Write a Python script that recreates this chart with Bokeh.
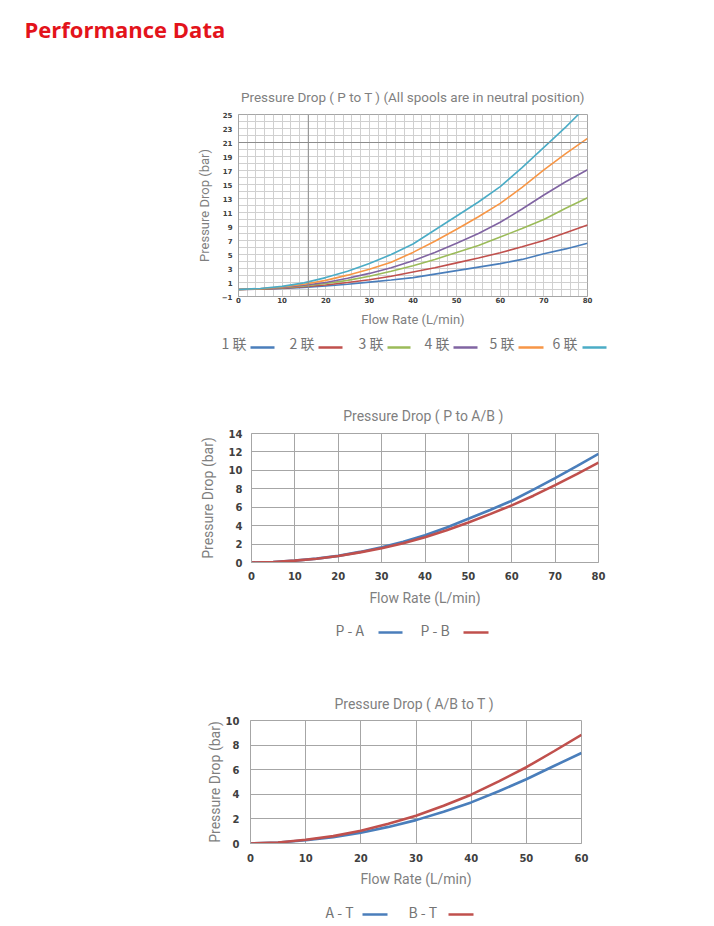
from bokeh.plotting import figure
from bokeh.models import Range1d, FixedTicker, Span
from bokeh.core.properties import value
from bokeh.embed import file_html
from bokeh.resources import INLINE

# ---------------- data ----------------
header_text = ["Performance Data"]

# Chart 1: Pressure drop P to T, 1..6 sections
flow_pt = [0, 5, 10, 15, 20, 25, 30, 35, 40, 45, 50, 55, 60, 65, 70, 75, 80]
pt_1 = [0, 0.05, 0.15, 0.3, 0.5, 0.75, 1.05, 1.35, 1.7, 2.2, 2.7, 3.2, 3.7, 4.3, 5.1, 5.8, 6.6]
pt_2 = [0, 0.06, 0.2, 0.4, 0.65, 1.0, 1.4, 1.9, 2.5, 3.1, 3.8, 4.5, 5.25, 6.1, 7.0, 8.1, 9.2]
pt_3 = [0, 0.08, 0.25, 0.5, 0.85, 1.3, 1.9, 2.6, 3.4, 4.3, 5.3, 6.3, 7.5, 8.7, 10.0, 11.6, 13.1]
pt_4 = [0, 0.1, 0.3, 0.6, 1.0, 1.6, 2.3, 3.1, 4.1, 5.3, 6.6, 8.0, 9.6, 11.5, 13.5, 15.4, 17.1]
pt_5 = [0, 0.1, 0.35, 0.75, 1.3, 2.05, 2.9, 3.9, 5.3, 6.9, 8.6, 10.4, 12.3, 14.6, 17.1, 19.4, 21.6]
pt_6 = [0, 0.15, 0.45, 0.95, 1.7, 2.6, 3.7, 5.0, 6.5, 8.5, 10.5, 12.5, 14.7, 17.4, 20.3, 23.2, 26.3]
pt_series = [pt_1, pt_2, pt_3, pt_4, pt_5, pt_6]
pt_names = ["1 联", "2 联", "3 联", "4 联", "5 联", "6 联"]
pt_colors = ["#4a7ebb", "#c0504d", "#9bbb59", "#8064a2", "#f79646", "#4bacc6"]
pt_xticks = [0, 10, 20, 30, 40, 50, 60, 70, 80]
pt_yticks = [-1, 1, 3, 5, 7, 9, 11, 13, 15, 17, 19, 21, 23, 25]

# Chart 2: P to A/B
flow_pab = [0, 5, 10, 15, 20, 25, 30, 35, 40, 45, 50, 55, 60, 65, 70, 75, 80]
p_a = [0, 0.05, 0.2, 0.42, 0.72, 1.15, 1.65, 2.25, 2.95, 3.8, 4.75, 5.7, 6.7, 7.9, 9.15, 10.45, 11.8]
p_b = [0, 0.05, 0.2, 0.4, 0.7, 1.1, 1.55, 2.1, 2.75, 3.5, 4.35, 5.25, 6.2, 7.25, 8.4, 9.6, 10.85]
pab_names = ["P - A", "P - B"]
pab_xticks = [0, 10, 20, 30, 40, 50, 60, 70, 80]
pab_yticks = [0, 2, 4, 6, 8, 10, 12, 14]

# Chart 3: A/B to T
flow_abt = [0, 5, 10, 15, 20, 25, 30, 35, 40, 45, 50, 55, 60]
a_t = [0, 0.08, 0.27, 0.52, 0.88, 1.35, 1.9, 2.58, 3.34, 4.25, 5.22, 6.3, 7.36]
b_t = [0, 0.08, 0.3, 0.6, 1.03, 1.6, 2.25, 3.07, 3.97, 5.05, 6.2, 7.5, 8.83]
abt_names = ["A - T", "B - T"]
abt_xticks = [0, 10, 20, 30, 40, 50, 60]
abt_yticks = [0, 2, 4, 6, 8, 10]

BLUE = "#4a7ebb"
RED = "#c0504d"
GRAY_TXT = "#7f7f7f"
TITLE_FONT = "Roboto"
TICK_FONT = "DejaVu Sans"


def style_common(p, title_size, label_size):
    p.title.align = "center"
    p.title.text_font = TITLE_FONT
    p.title.text_font_style = "normal"
    p.title.text_color = GRAY_TXT
    p.title.text_font_size = title_size
    p.outline_line_color = "#a6a6a6"
    p.background_fill_color = "white"
    p.border_fill_color = "white"
    for ax in (p.xaxis[0], p.yaxis[0]):
        ax.axis_label_text_font = TITLE_FONT
        ax.axis_label_text_font_style = "normal"
        ax.axis_label_text_color = GRAY_TXT
        ax.axis_label_text_font_size = label_size
        ax.major_tick_line_color = None
        ax.minor_tick_line_color = None
        ax.axis_line_color = "#a6a6a6"
        ax.major_label_text_font = TICK_FONT
        ax.major_label_text_font_style = "bold"
        ax.major_label_text_color = "#404040"


def blank_fig(height, top):
    bp = figure(width=698, height=height, x_range=Range1d(0, 698), y_range=Range1d(top + height, top),
                x_axis_type=None, y_axis_type=None, output_backend="svg", toolbar_location=None,
                min_border=0, outline_line_color=None)
    bp.grid.visible = False
    return bp


# ---------------- header ----------------
h0 = blank_fig(50, 0)
h0.text(x=[24], y=[28], text=header_text, text_font=value("Open Sans"), text_font_style="bold",
        text_font_size="22px", text_color="#e3131b", text_baseline="middle", text_align="left")

# ---------------- chart 1 ----------------
p1 = figure(width=698, height=282, x_range=Range1d(0, 80), y_range=Range1d(-1, 25),
            output_backend="svg", toolbar_location=None,
            min_border_left=238, min_border_right=111, min_border_top=64, min_border_bottom=36,
            title="Pressure Drop ( P to T ) (All spools are in neutral position)",
            x_axis_label="Flow Rate (L/min)", y_axis_label="Pressure Drop (bar)")
style_common(p1, "13.5px", "13px")
p1.title.standoff = 20
p1.xaxis.ticker = FixedTicker(ticks=pt_xticks)
p1.yaxis.ticker = FixedTicker(ticks=pt_yticks)
p1.xgrid.ticker = FixedTicker(ticks=list(range(0, 81, 2)))
p1.ygrid.ticker = FixedTicker(ticks=list(range(-1, 26)))
p1.grid.grid_line_color = "#d0d0d0"
p1.xaxis.major_label_text_font_size = "7px"
p1.yaxis.major_label_text_font_size = "7px"
p1.xaxis.major_label_standoff = -6
p1.yaxis.major_label_standoff = 0
p1.xaxis.axis_label_standoff = 6
p1.yaxis.axis_label_standoff = 7
p1.add_layout(Span(location=16, dimension="height", line_color="#8c8c8c", line_width=1))
p1.add_layout(Span(location=21, dimension="width", line_color="#8c8c8c", line_width=1))
for ys, c in zip(pt_series, pt_colors):
    p1.line(flow_pt, ys, line_color=c, line_width=1.6)


def legend_fig(height, top, names, xs_text, seg_x0, seg_x1, y_text, y_line, colors):
    lp = blank_fig(height, top)
    lp.text(x=xs_text, y=[y_text] * len(names), text=names, text_font=value("Noto Sans CJK SC"),
            text_font_size="14px", text_color="#747474", text_baseline="middle", text_align="left")
    lp.segment(x0=seg_x0, y0=[y_line] * len(names), x1=seg_x1, y1=[y_line] * len(names),
               line_color=colors, line_width=2.5)
    return lp


l1 = legend_fig(38, 332, pt_names, [221, 289, 358, 424, 489, 552],
                [250, 318, 387, 453, 518, 582], [274, 342, 410, 477, 543, 606],
                342, 347, pt_colors)

# ---------------- chart 2 ----------------
p2 = figure(width=698, height=242, x_range=Range1d(0, 80), y_range=Range1d(0, 14),
            output_backend="svg", toolbar_location=None,
            min_border_left=251, min_border_right=100, min_border_top=63, min_border_bottom=50,
            title="Pressure Drop  ( P to A/B )",
            x_axis_label="Flow Rate (L/min)", y_axis_label="Pressure Drop (bar)")
style_common(p2, "14px", "14px")
p2.title.standoff = 20
p2.xaxis.ticker = FixedTicker(ticks=pab_xticks)
p2.yaxis.ticker = FixedTicker(ticks=pab_yticks)
p2.grid.grid_line_color = "#a6a6a6"
p2.xaxis.major_label_text_font_size = "10px"
p2.yaxis.major_label_text_font_size = "10px"
p2.xaxis.major_label_standoff = 3
p2.yaxis.major_label_standoff = 3
p2.xaxis.axis_label_standoff = 7
p2.yaxis.axis_label_standoff = 10
p2.line(flow_pab, p_a, line_color=BLUE, line_width=2.6)
p2.line(flow_pab, p_b, line_color=RED, line_width=2.6)

l2 = legend_fig(38, 612, pab_names, [335, 420], [378, 463], [402, 488], 629, 632, [BLUE, RED])

# ---------------- chart 3 ----------------
p3 = figure(width=698, height=240, x_range=Range1d(0, 60), y_range=Range1d(0, 10),
            output_backend="svg", toolbar_location=None,
            min_border_left=250, min_border_right=117, min_border_top=70, min_border_bottom=47,
            title="Pressure Drop  ( A/B to T )",
            x_axis_label="Flow Rate (L/min)", y_axis_label="Pressure Drop (bar)")
style_common(p3, "14px", "14px")
p3.title.standoff = 18
p3.xaxis.ticker = FixedTicker(ticks=abt_xticks)
p3.yaxis.ticker = FixedTicker(ticks=abt_yticks)
p3.grid.grid_line_color = "#a6a6a6"
p3.xaxis.major_label_text_font_size = "10px"
p3.yaxis.major_label_text_font_size = "10px"
p3.xaxis.major_label_standoff = 4
p3.yaxis.major_label_standoff = 5
p3.xaxis.axis_label_standoff = 6
p3.yaxis.axis_label_standoff = 0
p3.line(flow_abt, a_t, line_color=BLUE, line_width=2.6)
p3.line(flow_abt, b_t, line_color=RED, line_width=2.6)

l3 = legend_fig(34, 890, abt_names, [325, 408], [362, 448], [387, 473], 911, 914, [BLUE, RED])

roots = [h0, p1, l1, p2, l2, p3, l3]
open("out.html", "w").write(file_html(roots, INLINE))
